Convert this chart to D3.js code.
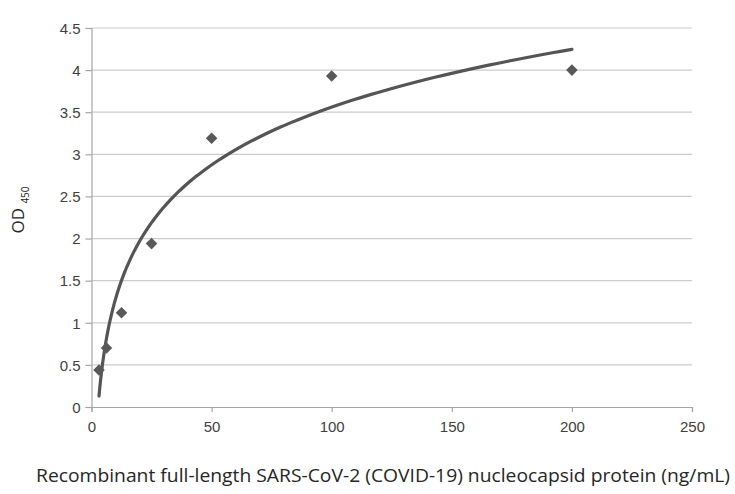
<!DOCTYPE html>
<html>
<head>
<meta charset="utf-8">
<script src="https://cdn.jsdelivr.net/npm/d3@7"></script>
<style>
  html, body { margin: 0; padding: 0; background: #fff; }
  svg { display: block; font-family: "Open Sans", "Liberation Sans", sans-serif; }
  .tick text { fill: #404040; font-size: 15px; }
</style>
</head>
<body>
<svg id="chart" width="735" height="494"></svg>
<script>
// Concentrations (ng/mL) and measured OD450
const concentrations = [3.125, 6.25, 12.5, 25, 50, 100, 200];
const odValues = [0.44, 0.70, 1.12, 1.94, 3.19, 3.93, 4.00];

const xTicks = [0, 50, 100, 150, 200, 250];
const yTicks = [0, 0.5, 1, 1.5, 2, 2.5, 3, 3.5, 4, 4.5];

const svg = d3.select('#chart');

const margin = { top: 28, right: 43, bottom: 87, left: 91.5 };
const width = 735 - margin.left - margin.right;
const height = 494 - margin.top - margin.bottom;

const g = svg.append('g')
    .attr('transform', `translate(${margin.left},${margin.top})`);

const xScale = d3.scaleLinear().domain([0, 250]).range([0, width]);
const yScale = d3.scaleLinear().domain([0, 4.5]).range([height, 0]);

// Gridlines
g.selectAll('.grid')
    .data(yTicks.filter(d => d > 0))
    .enter()
    .append('line')
    .attr('x1', 0)
    .attr('x2', xScale(250))
    .attr('y1', d => yScale(d))
    .attr('y2', d => yScale(d))
    .attr('stroke', '#cccccc')
    .attr('stroke-width', 1.2);

// Axes
const yAxis = d3.axisLeft(yScale).tickValues(yTicks).tickSize(6).tickPadding(5).tickFormat(d3.format('~g'));
const xAxis = d3.axisBottom(xScale).tickValues(xTicks).tickSize(5).tickPadding(9);

const yG = g.append('g').call(yAxis);
const xG = g.append('g').attr('transform', `translate(0,${height})`).call(xAxis);

[yG, xG].forEach(a => {
    a.select('.domain').attr('stroke', '#a6a6a6').attr('stroke-width', 1.2);
    a.selectAll('.tick line').attr('stroke', '#a6a6a6').attr('stroke-width', 1.2);
});
yG.selectAll('.tick text').attr('dy', '0.35em');

// Logarithmic trendline (least squares on ln x)
const lx = concentrations.map(Math.log);
const mx = d3.mean(lx), my = d3.mean(odValues);
const a = d3.sum(lx, (v, i) => (v - mx) * (odValues[i] - my)) / d3.sum(lx, v => (v - mx) ** 2);
const b = my - a * mx;
const xMin = d3.min(concentrations), xMax = d3.max(concentrations);
const fitX = d3.range(0, 201).map(i => xMin * Math.pow(xMax / xMin, i / 200));

g.append('path')
    .datum(fitX)
    .attr('fill', 'none')
    .attr('stroke', '#555555')
    .attr('stroke-width', 3.2)
    .attr('stroke-linecap', 'round')
    .attr('d', d3.line().x(d => xScale(d)).y(d => yScale(a * Math.log(d) + b)));

// Data points
g.selectAll('.pt')
    .data(concentrations)
    .enter()
    .append('path')
    .attr('transform', (d, i) => `translate(${xScale(d)},${yScale(odValues[i])})`)
    .attr('d', d3.symbol().type(d3.symbolDiamond2).size(85))
    .attr('fill', '#595959');

// Axis titles
const yTitle = svg.append('text')
    .attr('transform', 'translate(24,210) rotate(-90)')
    .attr('text-anchor', 'middle')
    .attr('fill', '#262626')
    .style('font-size', '17px');
yTitle.append('tspan').text('OD ');
yTitle.append('tspan').attr('dy', 5).style('font-size', '10px').text('450');

svg.append('text')
    .attr('x', 383)
    .attr('y', 482)
    .attr('text-anchor', 'middle')
    .attr('fill', '#262626')
    .style('font-size', '19px')
    .attr('textLength', 694)
    .attr('lengthAdjust', 'spacingAndGlyphs')
    .text('Recombinant full-length SARS-CoV-2 (COVID-19) nucleocapsid protein (ng/mL)');
</script>
</body>
</html>
